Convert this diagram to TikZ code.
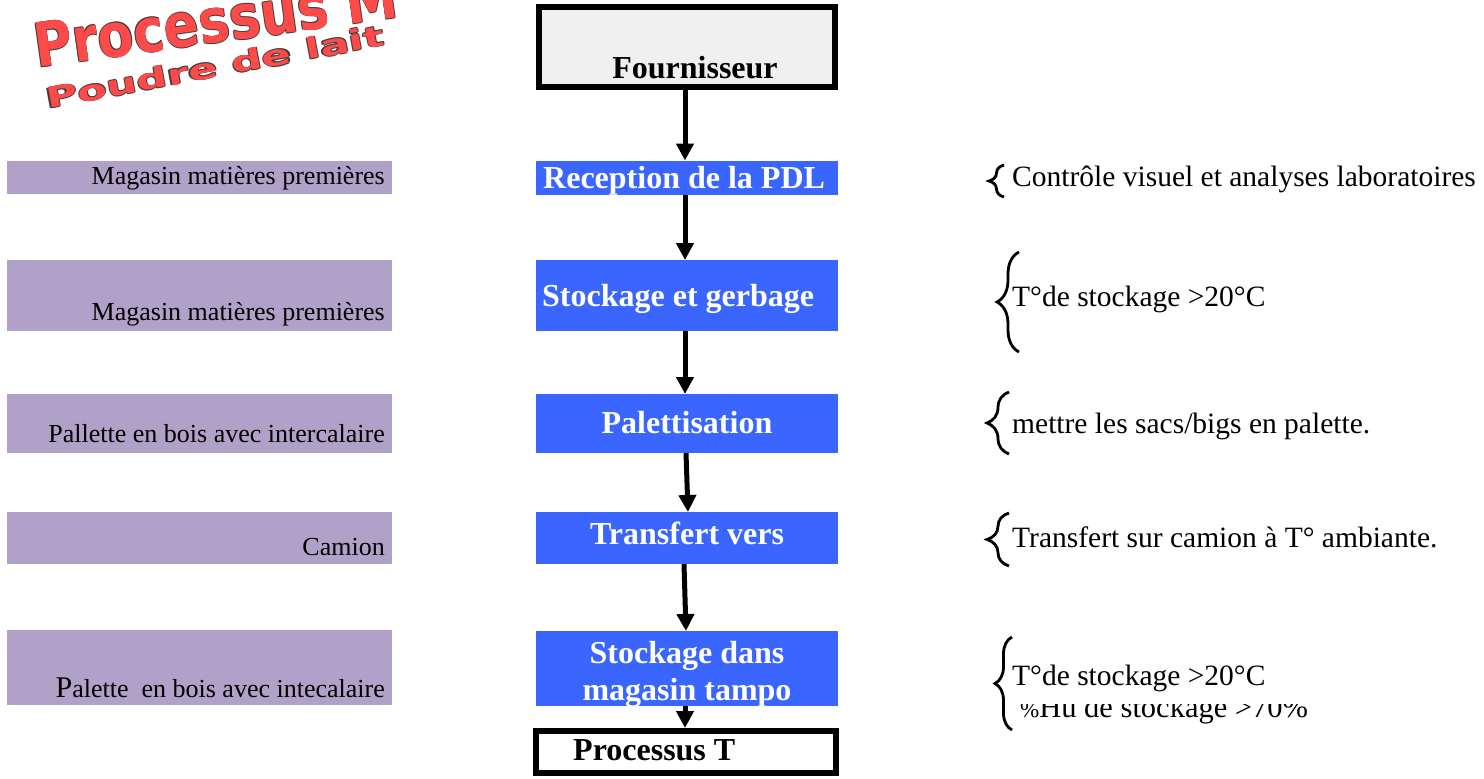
\documentclass[tikz,border=0pt]{standalone}
\usepackage{fontspec}
\setmainfont{Liberation Serif}
\newfontfamily\titlefont{DejaVu Sans}
\usetikzlibrary{arrows.meta,decorations.pathreplacing}

\definecolor{procblue}{RGB}{58,102,255}
\definecolor{lieupurple}{RGB}{177,160,200}
\definecolor{titlered}{RGB}{255,74,74}
\definecolor{titleedge}{RGB}{70,60,60}
\definecolor{boxgray}{RGB}{240,240,240}

% outlined word-art style title text
\newcommand{\outlined}[1]{%
  \makebox[0pt][l]{\color{titleedge}\raisebox{0.8pt}{#1}}%
  \makebox[0pt][l]{\color{titleedge}\raisebox{-0.8pt}{#1}}%
  \makebox[0pt][l]{\color{titleedge}\hspace*{0.8pt}#1}%
  \makebox[0pt][l]{\color{titleedge}\hspace*{-0.8pt}#1}%
  {\color{titlered}#1}}

\tikzset{
  x=1pt, y=-1pt,
  stepbox/.style={fill=procblue, minimum width=302pt, inner sep=0pt, outer sep=0pt},
  steptext/.style={text=white, font=\fontsize{32}{36}\selectfont\bfseries, inner sep=0pt},
  endbox/.style={draw=black, line width=6pt, minimum width=296pt, inner sep=0pt},
  endtext/.style={font=\fontsize{32}{36}\selectfont\bfseries, inner sep=0pt},
  placebox/.style={fill=lieupurple, minimum width=385pt, inner sep=0pt, outer sep=0pt},
  placetext/.style={font=\fontsize{26}{30}\selectfont, inner sep=0pt, anchor=base east},
  notetext/.style={font=\fontsize{29.5}{34}\selectfont, inner sep=0pt, anchor=base west},
  flow/.style={line width=5pt, -{Triangle[length=17pt,width=17pt]}},
  curly/.style={line width=2.8pt, decorate, decoration={brace, amplitude=#1}},
}

\begin{document}
\begin{tikzpicture}
\useasboundingbox (0,0) rectangle (1484,779);
\clip (0,0) rectangle (1484,779);

% title
\node[anchor=base west, rotate=8, inner sep=0pt,
      font=\titlefont\bfseries\fontsize{58}{60}\selectfont] (title) at (37,68)
  {\scalebox{0.9}[1.05]{\outlined{Processus M}}};
\node[anchor=base west, rotate=10.7, inner sep=0pt,
      font=\titlefont\bfseries\fontsize{27}{30}\selectfont] (subtitle) at (48,109)
  {\scalebox{1.6}[1.05]{\outlined{Poudre de lait}}};

% central flow
\node[endbox, fill=boxgray, minimum height=80pt] (fourn) at (687,47) {};
\node[endtext, anchor=base] (fourntxt) at (695,78) {Fournisseur};

\node[stepbox, minimum height=34pt] (recep) at (687,177.5) {};
\node[steptext, anchor=base west] (receptxt) at (543,188) {Reception de la PDL};

\node[stepbox, minimum height=71pt] (stock) at (687,295.5) {};
\node[steptext, anchor=base west] (stocktxt) at (542,306) {Stockage et gerbage};

\node[stepbox, minimum height=59pt] (palet) at (687,423.5) {};
\node[steptext, anchor=base] (palettxt) at (687,433) {Palettisation};

\node[stepbox, minimum height=52pt] (transf) at (687,538) {};
\node[steptext, anchor=base] (transftxt) at (687,544) {Transfert vers};

\node[stepbox, minimum height=75pt] (tampon) at (687,668.5) {};
\begin{scope}
  \clip (536,631) rectangle (838,706);
  \node[steptext, anchor=base] (tampontxt1) at (687,663) {Stockage dans};
  \node[steptext, anchor=base] (tampontxt2) at (687,700) {magasin tampo};
\end{scope}

\node[endbox, fill=white, minimum height=42pt, minimum width=300pt] (procT) at (686,752) {};
\node[endtext, anchor=base west] (procTtxt) at (573,760) {Processus T};

\draw[flow] ([xshift=-2pt]fourn.south) -- ([xshift=-2pt]recep.north);
\draw[flow] ([xshift=-2pt]recep.south) -- ([xshift=-2pt]stock.north);
\draw[flow] ([xshift=-2pt]stock.south) -- ([xshift=-2pt]palet.north);
\draw[flow] ([xshift=-1pt]palet.south) -- ([xshift=1pt]transf.north);
\draw[flow] ([xshift=-3pt]transf.south) -- ([xshift=-1pt]tampon.north);
\draw[flow] ([xshift=-2pt]tampon.south) -- ([xshift=-1pt]procT.north);

% places
\node[placebox, minimum height=33pt] (lieu1) at (199.5,177.5) {};
\node[placetext] (lieu1txt) at (385,184) {Magasin matières premières};
\node[placebox, minimum height=71pt] (lieu2) at (199.5,295.5) {};
\node[placetext] (lieu2txt) at (385,320) {Magasin matières premières};
\node[placebox, minimum height=59pt] (lieu3) at (199.5,423.5) {};
\node[placetext] (lieu3txt) at (385,442) {Pallette en bois avec intercalaire};
\node[placebox, minimum height=52pt] (lieu4) at (199.5,538) {};
\node[placetext] (lieu4txt) at (385,555) {Camion};
\node[placebox, minimum height=75pt] (lieu5) at (199.5,667.5) {};
\node[placetext] (lieu5txt) at (385,697) {{\fontsize{30}{30}\selectfont P}alette\ \ en bois avec intecalaire};

% notes
\coordinate (b1top) at (1004,165);  \coordinate (b1bot) at (1004,197);
\draw[curly=15pt] (b1bot) -- (b1top);
\node[notetext] (note1) at (1012,186) {Contrôle visuel et analyses laboratoires};

\coordinate (b2top) at (1019,252);  \coordinate (b2bot) at (1019,352);
\draw[curly=22pt] (b2bot) -- (b2top);
\node[notetext] (note2) at (1012,306) {T°de stockage >20°C};

\coordinate (b3top) at (1009,392);  \coordinate (b3bot) at (1009,454);
\draw[curly=22pt] (b3bot) -- (b3top);
\node[notetext] (note3) at (1012,433) {mettre les sacs/bigs en palette.};

\coordinate (b4top) at (1009,513);  \coordinate (b4bot) at (1009,566);
\draw[curly=22pt] (b4bot) -- (b4top);
\node[notetext] (note4) at (1012,547) {Transfert sur camion à T° ambiante.};

\coordinate (b5top) at (1012,637);  \coordinate (b5bot) at (1012,730);
\draw[curly=17pt] (b5bot) -- (b5top);
\node[notetext] (note5a) at (1012,685) {T°de stockage >20°C};
\begin{scope}
  \clip (1015,704) rectangle (1400,740);
  \node[notetext, font=\fontsize{30.5}{34}\selectfont] (note5b) at (1020,717)
    {{\fontsize{23}{23}\selectfont\%}Hu de stockage >70\%};
\end{scope}

\end{tikzpicture}
\end{document}
